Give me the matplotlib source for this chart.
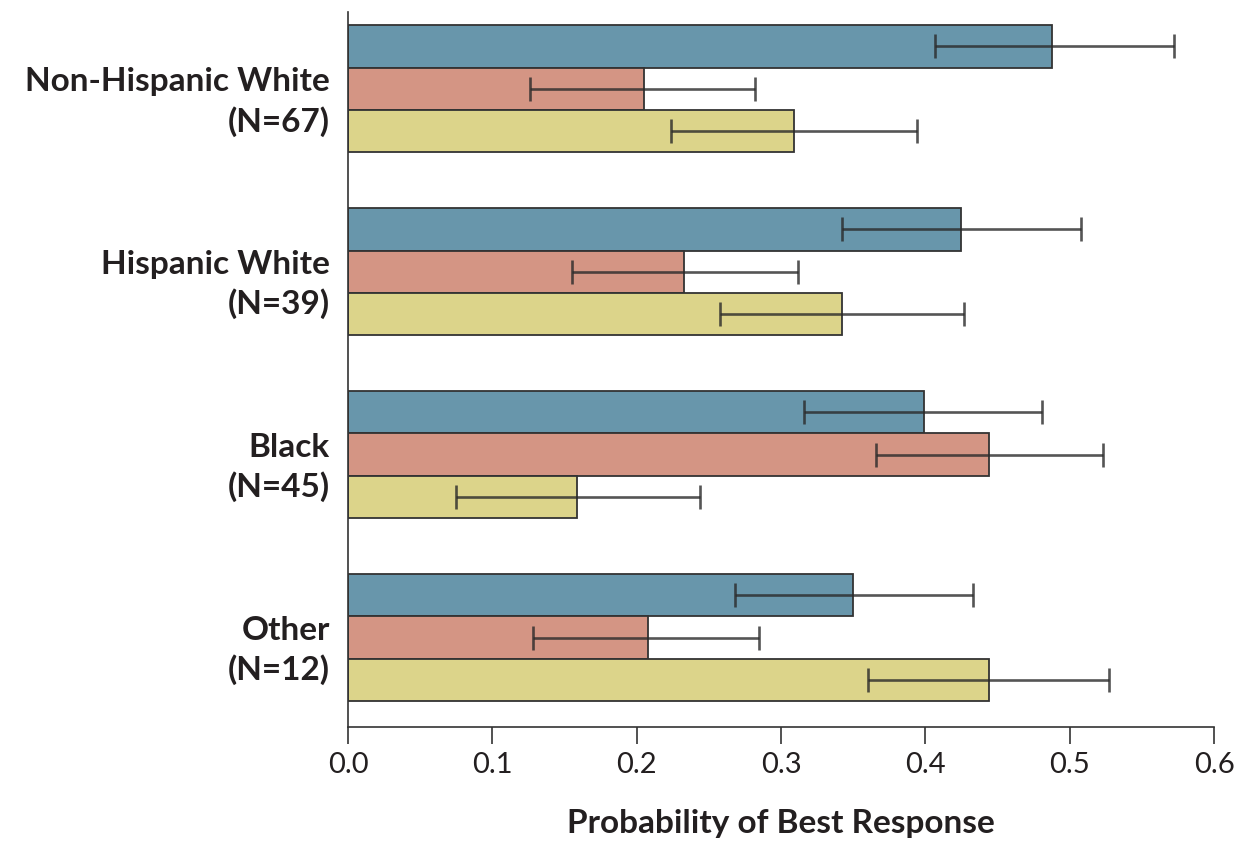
import numpy as np
import matplotlib.pyplot as plt

# groups and their sample sizes
groups = ['Non-Hispanic White', 'Hispanic White', 'Black', 'Other']
group_n = [67, 39, 45, 12]

# probability of best response (blue, red, yellow bars) with 95% CI ends
blue_vals = [0.488, 0.425, 0.399, 0.350]
blue_lo = [0.407, 0.342, 0.316, 0.268]
blue_hi = [0.572, 0.508, 0.481, 0.433]

red_vals = [0.205, 0.233, 0.444, 0.208]
red_lo = [0.126, 0.155, 0.366, 0.128]
red_hi = [0.282, 0.312, 0.523, 0.285]

yellow_vals = [0.309, 0.342, 0.159, 0.444]
yellow_lo = [0.224, 0.258, 0.075, 0.360]
yellow_hi = [0.394, 0.427, 0.244, 0.527]

xticks = [0.0, 0.1, 0.2, 0.3, 0.4, 0.5, 0.6]

plt.rcParams['font.family'] = ['Lato', 'DejaVu Sans']
txt = '#231f20'

fig = plt.figure(figsize=(12.41, 8.46), dpi=100)
ax = fig.add_axes([0.2804, 0.1407, 0.6979, 0.8451])

pos = np.arange(len(groups))
h = 0.232
series = [
    (blue_vals, blue_lo, blue_hi, '#6896ab', -h),
    (red_vals, red_lo, red_hi, '#d49584', 0.0),
    (yellow_vals, yellow_lo, yellow_hi, '#dcd48a', h),
]

for vals, lo, hi, col, off in series:
    vals = np.array(vals)
    err = [vals - np.array(lo), np.array(hi) - vals]
    ax.barh(pos + off, vals, height=h, color=col, edgecolor='#333333',
            linewidth=1.3, zorder=2)
    ax.errorbar(vals, pos + off, xerr=err, fmt='none', ecolor='#2a2a2a',
                elinewidth=1.9, capsize=8.5, capthick=1.9, alpha=0.8, zorder=3)

ax.set_ylim(3.489, -0.42)
ax.set_xlim(0, 0.6)

ax.set_yticks(pos + 0.03)
ax.set_yticklabels([f'{g}\n(N={n})' for g, n in zip(groups, group_n)],
                   fontsize=24, fontweight='bold', color=txt, linespacing=1.38,
                   ha='right')
ax.tick_params(axis='y', length=0, pad=13)

ax.set_xticks(xticks)
ax.set_xticklabels([f'{t:.1f}' for t in xticks], fontsize=21, color=txt)
ax.tick_params(axis='x', length=12, width=1.2, color='#333333', pad=6)

ax.set_xlabel('Probability of Best Response', fontsize=24, fontweight='bold',
              color=txt, labelpad=22)

for s in ['top', 'right']:
    ax.spines[s].set_visible(False)
for s in ['left', 'bottom']:
    ax.spines[s].set_linewidth(1.2)
    ax.spines[s].set_color('#333333')

fig.savefig('out.png', dpi=100)
